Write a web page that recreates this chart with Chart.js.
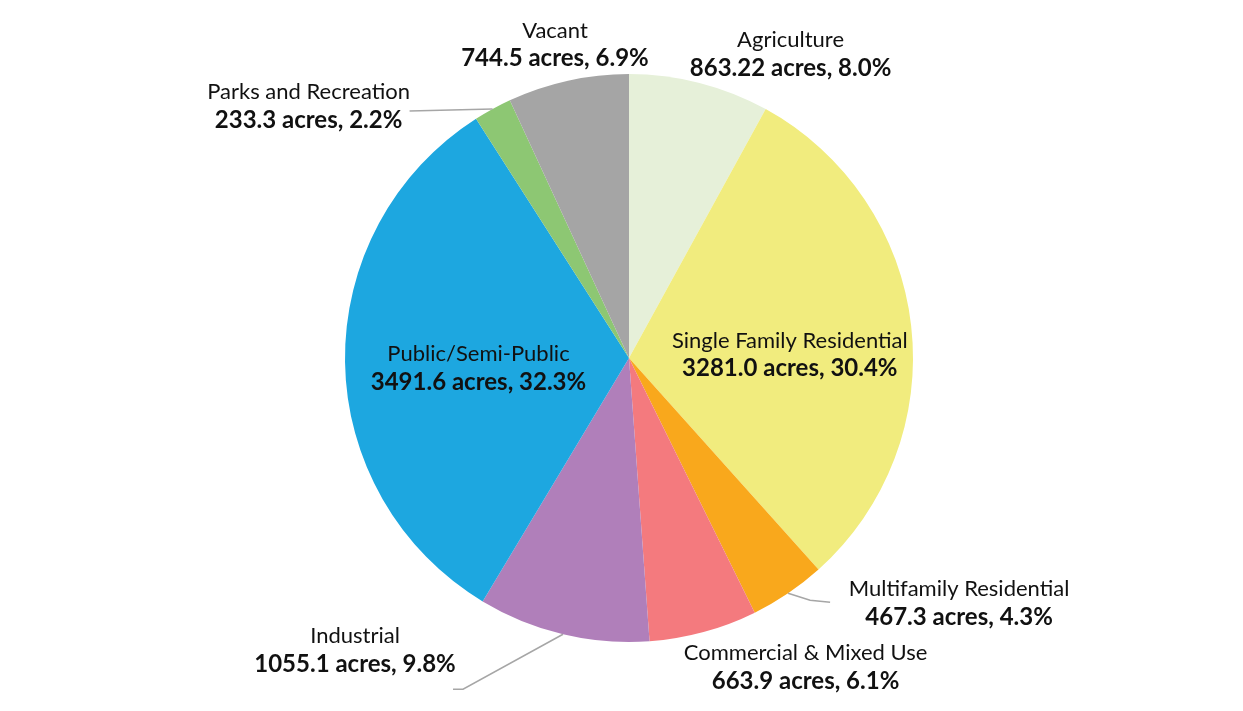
<!DOCTYPE html>
<html>
<head>
<meta charset="utf-8">
<script src="https://cdn.jsdelivr.net/npm/chart.js@4"></script>
<style>
  html, body { margin: 0; padding: 0; background: #ffffff; }
  #wrap { width: 1243px; height: 711px; position: relative; }
</style>
</head>
<body>
<div id="wrap"><canvas id="c" width="1243" height="711"></canvas></div>
<script>
// ---- Data ----
const categories = [
  "Agriculture",
  "Single Family Residential",
  "Multifamily Residential",
  "Commercial & Mixed Use",
  "Industrial",
  "Public/Semi-Public",
  "Parks and Recreation",
  "Vacant"
];
const acres = [863.22, 3281.0, 467.3, 663.9, 1055.1, 3491.6, 233.3, 744.5];
const acreLabels = ["863.22", "3281.0", "467.3", "663.9", "1055.1", "3491.6", "233.3", "744.5"];
const percentLabels = ["8.0%", "30.4%", "4.3%", "6.1%", "9.8%", "32.3%", "2.2%", "6.9%"];
const colors = ["#E6F0D9", "#F1EC7E", "#F9A81C", "#F47A7E", "#B07FBA", "#1DA7E0", "#8DC773", "#A5A5A5"];

// ---- Label layout (relative to each slice's geometry) ----
// r: fraction of outer radius along the slice mid-angle; dx/dy: pixel offset of first-line centre
const labelLayout = [
  { r: 1.0, dx: 91, dy: -43 },
  { r: 0.57, dx: 0, dy: 1 },
  { r: 1.0, dx: 171, dy: -4 },
  { r: 1.0, dx: 102, dy: 21 },
  { r: 1.0, dx: -208, dy: 2 },
  { r: 0.53, dx: 0, dy: -6 },
  { r: 1.0, dx: -184, dy: -17 },
  { r: 1.0, dx: -13, dy: -50 }
];
// leader lines: offsets from the slice's outer mid-point
const leaders = [
  null, null,
  [[0, 0], [22, 7], [42, 9]],
  null,
  [[0, 0], [-100, 55], [-110, 55]],
  null,
  [[0, 0], [-83, 2]],
  null
];

const FONT = "Lato, 'Open Sans', sans-serif";
const labelPlugin = {
  id: 'sliceLabels',
  afterDatasetsDraw(chart) {
    const ctx = chart.ctx;
    const meta = chart.getDatasetMeta(0);
    meta.data.forEach((arc, i) => {
      const p = arc.getProps(['x', 'y', 'startAngle', 'endAngle', 'outerRadius'], true);
      const mid = (p.startAngle + p.endAngle) / 2;
      const ex = p.x + Math.cos(mid) * p.outerRadius;
      const ey = p.y + Math.sin(mid) * p.outerRadius;
      const lay = labelLayout[i];
      const ax = p.x + Math.cos(mid) * p.outerRadius * lay.r + lay.dx;
      const ay = p.y + Math.sin(mid) * p.outerRadius * lay.r + lay.dy;
      ctx.save();
      if (leaders[i]) {
        ctx.strokeStyle = '#A6A6A6';
        ctx.lineWidth = 1.5;
        ctx.beginPath();
        leaders[i].forEach((pt, k) => {
          if (k === 0) ctx.moveTo(ex + pt[0], ey + pt[1]);
          else ctx.lineTo(ex + pt[0], ey + pt[1]);
        });
        ctx.stroke();
      }
      ctx.fillStyle = '#111111';
      ctx.textAlign = 'center';
      ctx.textBaseline = 'middle';
      ctx.font = "400 22px " + FONT;
      ctx.fillText(categories[i], ax, ay);
      ctx.font = "700 24px " + FONT;
      ctx.fillText(acreLabels[i] + " acres, " + percentLabels[i], ax, ay + 28);
      ctx.restore();
    });
  }
};

new Chart(document.getElementById('c'), {
  type: 'pie',
  data: {
    labels: categories,
    datasets: [{
      data: acres,
      backgroundColor: colors,
      borderWidth: 0
    }]
  },
  options: {
    responsive: false,
    animation: false,
    layout: { padding: { top: 74, bottom: 69, left: 15, right: 0 } },
    plugins: {
      legend: { display: false },
      tooltip: { enabled: false }
    }
  },
  plugins: [labelPlugin]
});
</script>
</body>
</html>
